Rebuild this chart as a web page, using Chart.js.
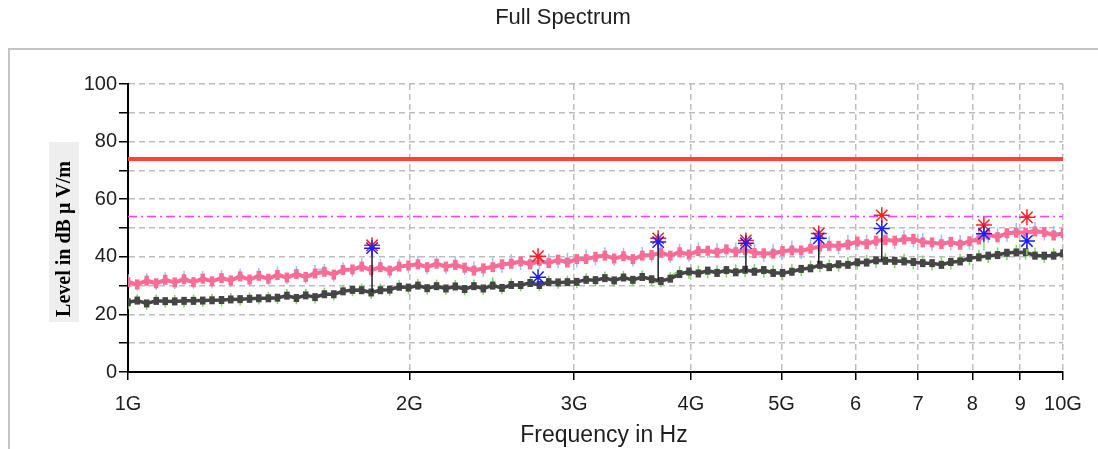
<!DOCTYPE html>
<html>
<head>
<meta charset="utf-8">
<script src="https://cdn.jsdelivr.net/npm/chart.js@4/dist/chart.umd.min.js"></script>
<style>
  html, body { margin: 0; padding: 0; background: #fff; }
  #wrap { width: 1098px; height: 449px; }
</style>
</head>
<body>
<div id="wrap"><canvas id="spec" width="1098" height="449"></canvas></div>
<script>
// frequency points in GHz
const freqGHz = [
  1.000, 1.023, 1.047, 1.072, 1.096, 1.122, 1.148, 1.175, 1.202, 1.230,
  1.259, 1.288, 1.318, 1.349, 1.380, 1.413, 1.445, 1.479, 1.514, 1.549,
  1.585, 1.622, 1.660, 1.698, 1.738, 1.778, 1.820, 1.862, 1.905, 1.950,
  1.995, 2.042, 2.089, 2.138, 2.188, 2.239, 2.291, 2.344, 2.399, 2.455,
  2.512, 2.570, 2.630, 2.692, 2.754, 2.818, 2.884, 2.951, 3.020, 3.090,
  3.162, 3.236, 3.311, 3.388, 3.467, 3.548, 3.631, 3.715, 3.802, 3.890,
  3.981, 4.074, 4.169, 4.266, 4.365, 4.467, 4.571, 4.677, 4.786, 4.898,
  5.012, 5.129, 5.248, 5.370, 5.495, 5.623, 5.754, 5.888, 6.026, 6.166,
  6.310, 6.457, 6.607, 6.761, 6.918, 7.079, 7.244, 7.413, 7.586, 7.762,
  7.943, 8.128, 8.318, 8.511, 8.710, 8.913, 9.120, 9.333, 9.550, 9.772,
  10.000
];

// peak detector (pink) and its raw trace (light blue)
const peakTrace = [
  31.2, 30.4, 31.7, 30.8, 32.0, 31.1, 32.2, 31.2, 32.4, 31.5,
  32.6, 31.8, 33.2, 32.1, 33.4, 32.4, 33.7, 32.8, 34.0, 33.0,
  34.2, 34.8, 33.8, 35.4, 35.6, 36.6, 35.4, 36.4, 35.2, 36.6,
  37.0, 37.4, 36.4, 37.6, 36.6, 37.2, 36.2, 35.2, 36.0, 36.4,
  37.4, 37.6, 38.4, 37.4, 38.6, 37.8, 39.0, 38.0, 39.2, 39.2,
  40.0, 40.4, 39.4, 40.2, 39.2, 40.4, 40.6, 41.4, 40.4, 41.6,
  40.8, 42.0, 42.1, 41.4, 42.6, 41.6, 42.4, 41.3, 41.2, 41.1,
  42.0, 42.2, 42.2, 42.8, 43.6, 43.8, 43.8, 44.2, 45.3, 44.4,
  45.6, 45.8, 45.6, 46.0, 46.2, 45.0, 45.0, 44.4, 45.2, 44.2,
  45.4, 46.0, 47.7, 46.8, 48.2, 48.4, 48.4, 48.8, 48.6, 47.4,
  48.2
];
const peakRaw = [
  32.3, 30.0, 32.6, 30.2, 32.9, 30.6, 33.4, 30.7, 33.3, 30.8,
  33.6, 31.2, 34.2, 31.5, 34.4, 31.8, 34.9, 32.2, 35.0, 32.4,
  35.4, 35.8, 33.1, 36.4, 34.8, 37.8, 34.7, 37.5, 34.4, 37.6,
  36.0, 38.6, 35.7, 38.5, 35.8, 38.4, 35.4, 36.7, 34.8, 37.9,
  36.2, 39.2, 37.2, 39.0, 37.4, 39.4, 37.8, 39.6, 38.0, 40.8,
  38.8, 41.6, 38.6, 41.4, 38.4, 41.7, 39.8, 42.6, 39.6, 42.8,
  40.0, 43.2, 41.3, 43.0, 41.4, 43.2, 41.2, 42.9, 40.0, 42.7,
  40.8, 43.8, 41.0, 44.4, 42.4, 45.4, 42.6, 45.8, 44.1, 46.0,
  44.4, 47.4, 44.4, 47.6, 45.0, 46.6, 43.8, 46.0, 44.0, 45.8,
  44.2, 47.6, 46.5, 48.4, 47.0, 50.0, 47.2, 50.4, 47.4, 49.0,
  47.0
];

// average detector (dark grey) and its raw trace (light green)
const avgTrace = [
  24.2, 24.8, 23.8, 24.7, 24.6, 24.5, 24.7, 24.7, 24.8, 24.9,
  25.0, 25.2, 25.3, 25.4, 25.6, 25.6, 25.8, 26.5, 25.7, 26.6,
  26.0, 27.0, 27.0, 28.0, 28.5, 28.4, 27.6, 28.4, 28.6, 29.6,
  29.3, 30.0, 29.1, 29.8, 29.0, 29.7, 28.8, 29.8, 29.0, 30.0,
  29.2, 30.2, 30.2, 30.9, 30.2, 31.2, 31.1, 31.2, 31.3, 32.0,
  31.9, 32.6, 31.8, 32.8, 32.0, 33.0, 32.2, 31.6, 32.4, 34.0,
  34.9, 34.2, 35.2, 34.4, 35.4, 34.6, 35.5, 34.8, 35.4, 34.4,
  34.4, 34.8, 35.8, 36.0, 37.2, 36.4, 37.4, 37.2, 38.1, 38.0,
  38.8, 38.6, 38.6, 38.4, 38.2, 37.8, 37.8, 37.2, 38.2, 38.4,
  39.6, 39.8, 40.4, 40.6, 41.4, 41.5, 41.6, 40.4, 40.4, 40.4,
  41.2
];
const avgRaw = [
  23.2, 25.6, 23.0, 25.5, 23.8, 25.3, 23.9, 25.5, 24.0, 25.7,
  24.2, 26.0, 24.5, 26.2, 24.8, 26.4, 25.0, 27.4, 24.9, 27.5,
  25.2, 27.9, 26.2, 28.9, 27.7, 29.3, 26.8, 29.3, 27.8, 30.5,
  28.5, 30.9, 28.3, 30.7, 28.2, 30.6, 28.0, 30.7, 28.2, 31.5,
  28.4, 31.1, 29.4, 31.8, 29.4, 32.1, 30.3, 32.1, 30.5, 32.9,
  31.1, 33.5, 31.0, 33.7, 31.2, 33.9, 31.4, 30.8, 33.3, 35.3,
  33.7, 35.5, 34.0, 35.7, 34.2, 35.9, 34.3, 36.1, 34.2, 35.7,
  33.2, 36.1, 34.6, 37.3, 36.0, 37.7, 36.2, 38.5, 36.9, 39.3,
  37.6, 39.9, 37.4, 39.7, 37.0, 39.1, 36.6, 38.5, 37.0, 39.7,
  38.4, 41.1, 39.2, 41.9, 40.2, 42.8, 40.4, 41.7, 39.2, 41.7,
  40.0
];

// final measurement markers
const markFreq = [1.824, 2.745, 3.69, 4.58, 5.48, 6.40, 8.23, 9.15];
const markPeak = [44.0, 40.2, 46.4, 45.7, 48.1, 54.4, 51.0, 53.7];
const markAvg  = [43.0, 32.9, 45.1, 44.7, 46.4, 49.8, 48.0, 45.5];
const stemBase = [27.8, null, 31.8, 34.7, 37.6, 39.0, 42.2, 40.5];

// limit lines
const limitPeak = 74;
const limitAvg = 54;

const xTicks = [1, 2, 3, 4, 5, 6, 7, 8, 9, 10];
const xTickLabels = ['1G', '2G', '3G', '4G', '5G', '6', '7', '8', '9', '10G'];

const pts = (ys) => freqGHz.map((f, i) => ({x: f, y: ys[i]}));

const trace = (data, color, lw, rad, pw, order) => ({
  data: data, borderColor: color, backgroundColor: color, borderWidth: lw,
  pointStyle: 'line', rotation: 90, pointRadius: rad, pointBorderWidth: pw,
  pointBorderColor: color, pointHoverRadius: rad, tension: 0, order: order
});

const datasets = [
  {data: [{x: 1, y: limitPeak}, {x: 10, y: limitPeak}], borderColor: '#ff4040', borderWidth: 4, pointRadius: 0, order: 9},
  {data: [{x: 1, y: limitAvg}, {x: 10, y: limitAvg}], borderColor: '#ff3cff', borderWidth: 1.5, borderDash: [9, 4, 2, 4], pointRadius: 0, order: 9},
  trace(pts(peakRaw), '#8fc6f6', 1.5, 5, 1.5, 8),
  trace(pts(avgRaw), '#78dc55', 1.5, 4, 1.5, 8),
  trace(pts(peakTrace), '#ff6b95', 4, 5, 4.5, 7),
  trace(pts(avgTrace), '#454545', 3.5, 4, 5.5, 7)
];

markFreq.forEach((f, k) => {
  if (stemBase[k] === null) return;
  datasets.push({
    data: [{x: f, y: stemBase[k]}, {x: f, y: markAvg[k]}],
    borderColor: k < 6 ? '#202020' : '#86e064', borderWidth: 1.5, pointRadius: 0, order: 5
  });
});

datasets.push({
  data: markFreq.map((f, k) => ({x: f, y: markPeak[k]})),
  showLine: false, pointStyle: 'star', pointRadius: 8, pointBorderWidth: 1.5,
  pointBorderColor: '#ff1e1e', borderColor: '#ff1e1e', order: 2
});
datasets.push({
  data: markFreq.map((f, k) => ({x: f, y: markAvg[k]})),
  showLine: false, pointStyle: 'star', pointRadius: 8, pointBorderWidth: 1.5,
  pointBorderColor: '#1c1cff', borderColor: '#1c1cff', order: 1
});

const frame = {
  id: 'frame',
  beforeDraw(chart) {
    const ctx = chart.ctx;
    ctx.save();
    ctx.fillStyle = '#fff';
    ctx.fillRect(0, 0, chart.width, chart.height);
    ctx.strokeStyle = '#c4c4c4';
    ctx.lineWidth = 2;
    ctx.strokeRect(9, 49, chart.width + 10, chart.height + 10);
    ctx.restore();
  },
  afterDraw(chart) {
    const ctx = chart.ctx;
    ctx.save();
    ctx.fillStyle = '#1e1e1e';
    ctx.textAlign = 'center';
    ctx.textBaseline = 'middle';
    ctx.font = '22px "Liberation Sans", Arial, sans-serif';
    ctx.fillText('Full Spectrum', 563, 18);
    ctx.font = '23px "Liberation Sans", Arial, sans-serif';
    ctx.fillText('Frequency in Hz', 604, 436);
    // y axis title on its grey box
    ctx.fillStyle = '#eeeeee';
    ctx.fillRect(49, 142, 30, 180);
    ctx.translate(64, 239);
    ctx.rotate(-Math.PI / 2);
    ctx.fillStyle = '#000';
    ctx.font = 'bold 20px "Liberation Serif", "Times New Roman", serif';
    ctx.fillText('Level in dB \u03bc V/m', 0, 1);
    ctx.restore();
  }
};

const gridStyle = {color: '#bdbdbd', lineWidth: 1.5, tickColor: '#000', tickWidth: 1.5};

new Chart(document.getElementById('spec'), {
  type: 'line',
  data: {datasets: datasets},
  plugins: [frame],
  options: {
    responsive: false,
    animation: false,
    events: [],
    layout: {padding: {left: 0, right: 35, top: 84, bottom: 0}},
    plugins: {legend: {display: false}, title: {display: false}, tooltip: {enabled: false}},
    scales: {
      x: {
        type: 'logarithmic', min: 1, max: 10,
        afterBuildTicks: s => { s.ticks = xTicks.map(v => ({value: v})); },
        afterFit: s => { s.height = 77; },
        grid: Object.assign({tickLength: 8}, gridStyle),
        border: {color: '#000', width: 2, dash: [6, 4]},
        ticks: {
          autoSkip: false, maxRotation: 0, padding: 12, color: '#1e1e1e',
          font: {family: '"Liberation Sans", Arial, sans-serif', size: 20},
          callback: (v, i) => xTickLabels[i]
        }
      },
      y: {
        min: 0, max: 100,
        afterFit: s => { s.width = 128; },
        grid: Object.assign({tickLength: 9}, gridStyle),
        border: {color: '#000', width: 2, dash: [6, 4]},
        ticks: {
          stepSize: 10, padding: 2, color: '#1e1e1e',
          font: {family: '"Liberation Sans", Arial, sans-serif', size: 20},
          callback: v => (v % 20 === 0 ? String(v) : '')
        }
      }
    }
  }
});
</script>
</body>
</html>
